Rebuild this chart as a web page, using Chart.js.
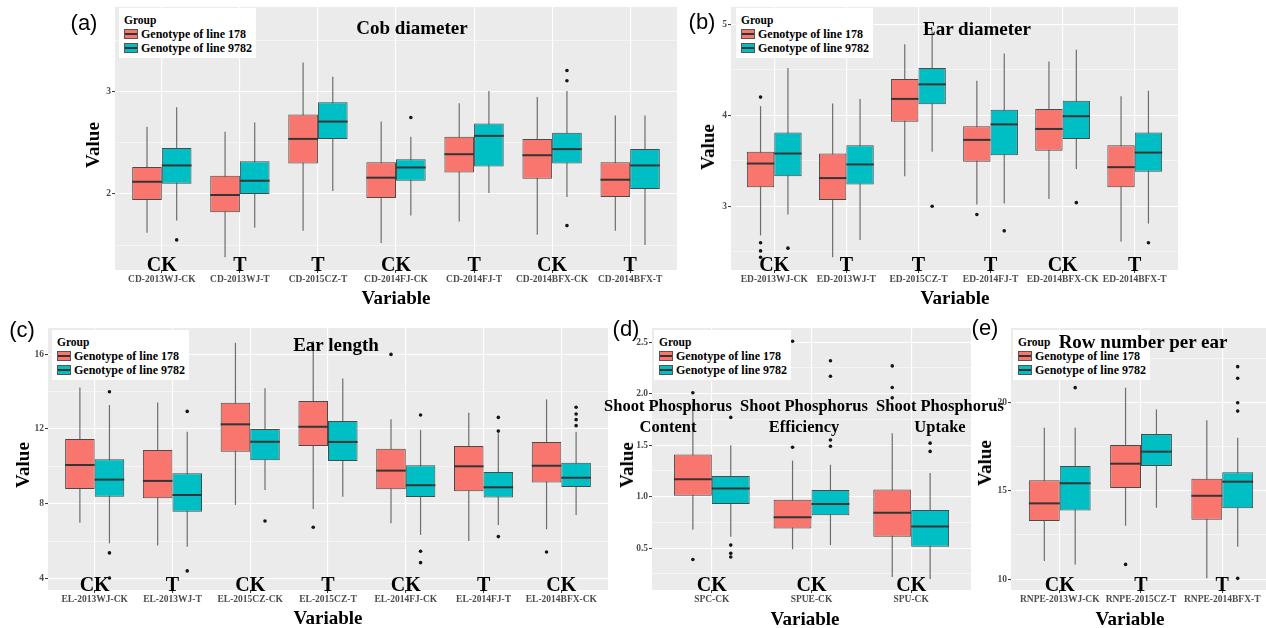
<!DOCTYPE html>
<html><head><meta charset="utf-8">
<script src="https://cdn.jsdelivr.net/npm/chart.js@4/dist/chart.umd.min.js"></script>
<style>
html,body{margin:0;padding:0;background:#fff;width:1266px;height:628px;overflow:hidden;position:relative;font-family:"Liberation Serif","Times New Roman",serif;}
canvas.pc{position:absolute;}
.t{position:absolute;transform:translate(-50%,-50%);white-space:nowrap;font-weight:bold;color:#000;}
.pl{font-family:"Liberation Sans",Arial,sans-serif;font-weight:normal;font-size:22px;}
.ttl{font-size:19px;}
.sp{font-size:16.5px;line-height:21px;text-align:center;}
.ax{font-size:19px;}
.vy{transform:translate(-50%,-50%) rotate(-90deg);}
.lg{position:absolute;background:#fff;font-weight:bold;font-size:12px;line-height:14px;padding:5px 4px 0 5px;box-sizing:border-box;white-space:nowrap;}
.lg .k{display:inline-block;width:12px;height:8px;border:1px solid #555;vertical-align:-1px;margin-right:3px;position:relative;}
.lg .k::after{content:'';position:absolute;left:0;right:0;top:3px;height:2px;background:#333;}
</style></head><body>
<script>
// ---------- DATA ----------
// five-number summaries per category: [lower whisker, Q1, median, Q3, upper whisker]
const cdCats = ['CD-2013WJ-CK','CD-2013WJ-T','CD-2015CZ-T','CD-2014FJ-CK','CD-2014FJ-T','CD-2014BFX-CK','CD-2014BFX-T'];
const cdTags = ['CK','T','T','CK','T','CK','T'];
const cd178 = [[1.62,1.94,2.12,2.265,2.66],[1.38,1.82,1.99,2.18,2.61],[1.64,2.30,2.54,2.78,3.29],[1.52,1.96,2.16,2.31,2.71],[1.73,2.21,2.39,2.56,2.89],[1.60,2.15,2.38,2.54,2.95],[1.64,1.97,2.14,2.31,2.77]];
const cd9782 = [[1.74,2.10,2.28,2.45,2.85],[1.67,2.00,2.13,2.32,2.70],[2.03,2.54,2.71,2.90,3.15],[1.79,2.13,2.26,2.34,2.56],[2.01,2.27,2.57,2.69,3.01],[1.97,2.30,2.44,2.60,3.01],[1.50,2.05,2.28,2.44,2.77]];
const cd178Out = [];
const cd9782Out = [[0,1.55],[3,2.75],[5,3.21],[5,3.11],[5,1.69]];
const cdMajor = [2,3];
const cdMinor = [1.5,2.5,3.5];

const edCats = ['ED-2013WJ-CK','ED-2013WJ-T','ED-2015CZ-T','ED-2014FJ-T','ED-2014BFX-CK','ED-2014BFX-T'];
const edTags = ['CK','T','T','T','CK','T'];
const ed178 = [[2.68,3.21,3.47,3.60,4.10],[2.44,3.07,3.31,3.58,4.13],[3.33,3.93,4.18,4.40,4.78],[3.02,3.49,3.73,3.88,4.38],[3.08,3.61,3.85,4.07,4.59],[2.61,3.21,3.43,3.67,4.21]];
const ed9782 = [[2.91,3.33,3.58,3.81,4.52],[2.63,3.24,3.46,3.67,4.18],[3.60,4.12,4.34,4.52,4.92],[3.03,3.56,3.90,4.06,4.68],[3.41,3.74,3.99,4.16,4.72],[2.81,3.38,3.59,3.81,4.27]];
const ed178Out = [[0,4.20],[0,2.60],[0,2.51],[0,2.44],[3,2.91]];
const ed9782Out = [[0,2.54],[2,3.00],[3,2.73],[4,3.04],[5,2.60]];
const edMajor = [3,4,5];
const edMinor = [2.5,3.5,4.5];

const elCats = ['EL-2013WJ-CK','EL-2013WJ-T','EL-2015CZ-CK','EL-2015CZ-T','EL-2014FJ-CK','EL-2014FJ-T','EL-2014BFX-CK'];
const elTags = ['CK','T','CK','T','CK','T','CK'];
const el178 = [[7.0,8.80,10.08,11.47,14.22],[5.78,8.30,9.23,10.88,13.42],[7.95,10.79,12.25,13.40,16.6],[7.73,11.09,12.12,13.49,16.7],[6.97,8.78,9.78,10.95,12.52],[6.03,8.68,10.01,11.09,12.87],[6.65,9.14,10.04,11.31,13.58]];
const el9782 = [[5.90,8.39,9.30,10.38,13.28],[5.72,7.59,8.48,9.64,11.86],[8.75,10.33,11.32,12.00,14.17],[8.39,10.29,11.31,12.43,14.70],[6.35,8.37,9.00,10.06,11.95],[6.88,8.34,8.89,9.71,11.77],[7.41,8.91,9.40,10.20,11.86]];
const el178Out = [[3,6.76],[4,15.98],[6,5.44]];
const el9782Out = [[0,13.99],[0,5.39],[0,4.05],[1,12.94],[1,4.43],[2,7.09],[4,12.75],[4,5.48],[4,4.87],[5,12.62],[5,11.89],[5,6.26],[6,13.16],[6,12.80],[6,12.50],[6,12.18]];
const elMajor = [4,8,12,16];
const elMinor = [6,10,14];

const spCats = ['SPC-CK','SPUE-CK','SPU-CK'];
const spTags = ['CK','CK','CK'];
const sp178 = [[0.68,1.01,1.17,1.41,1.92],[0.49,0.69,0.80,0.97,1.35],[0.22,0.61,0.845,1.07,1.615]];
const sp9782 = [[0.61,0.93,1.08,1.20,1.50],[0.53,0.82,0.93,1.065,1.31],[0.20,0.515,0.71,0.87,1.23]];
const sp178Out = [[0,2.01],[0,0.39],[1,2.51],[1,1.48],[2,2.27],[2,2.06],[2,1.96]];
const sp9782Out = [[0,1.77],[0,0.53],[0,0.45],[0,0.415],[1,2.32],[1,2.17],[1,1.55],[1,1.49],[2,1.52],[2,1.44]];
const spMajor = [0.5,1.0,1.5,2.0,2.5];
const spMinor = [0.25,0.75,1.25,1.75,2.25];

const rnCats = ['RNPE-2013WJ-CK','RNPE-2015CZ-T','RNPE-2014BFX-T'];
const rnTags = ['CK','T','T'];
const rn178 = [[11.02,13.29,14.29,15.60,18.58],[13.02,15.16,16.54,17.60,20.85],[10.04,13.36,14.72,15.69,19.0]];
const rn9782 = [[10.83,13.89,15.43,16.41,18.58],[14.04,16.41,17.22,18.22,19.62],[11.83,14.01,15.52,16.05,18.01]];
const rn178Out = [[1,10.83]];
const rn9782Out = [[0,20.85],[2,22.04],[2,21.38],[2,19.99],[2,19.52],[2,10.04]];
const rnMajor = [10,15,20];
const rnMinor = [12.5,17.5,22.5];

const groupNames = ['Genotype of line 178','Genotype of line 9782'];

// ---------- DRAWING ----------
const FONT = "'Liberation Serif','Times New Roman',serif";
const FILL = ['#F8766D','#00BFC4'];
const CATP = 0.76;
const OFF = CATP/4;
const YW = 30, XH = 22, PT = 10, PR = 10;

function panel(p){
  const cv = document.createElement('canvas');
  cv.className='pc';
  const w = p.R - p.L + YW + PR, h = p.B - p.T + PT + XH;
  cv.width = w; cv.height = h;
  cv.style.left = (p.L - YW) + 'px'; cv.style.top = (p.T - PT) + 'px';
  cv.style.width = w + 'px'; cv.style.height = h + 'px';
  document.body.appendChild(cv);
  const n = p.cats.length;
  const isMajor = v => p.major.some(m => Math.abs(m - v) < 1e-6);
  const yTicks = p.major.concat(p.minor).sort((a,b)=>a-b);
  const half = ctx => { const s = ctx.chart.scales.x; return Math.abs(s.getPixelForValue(1+OFF) - s.getPixelForValue(1)); };
  const groups = [p.g178, p.g9782];
  const outs = [p.o178, p.o9782];
  const ds = [];
  groups.forEach((g,k)=>{
    ds.push({type:'bar', stack:'s'+k, order:1, data:g.map((s,i)=>({x:i+1, y:[s[1], s[3]]})),
      backgroundColor:FILL[k], borderColor:'#4a4a4a', borderWidth:1, borderSkipped:false,
      categoryPercentage:CATP, barPercentage:1});
  });
  groups.forEach((g,k)=>{
    ds.push({type:'bar', stack:'s'+k, order:2, data:g.map((s,i)=>({x:i+1, y:[s[0], s[4]]})),
      backgroundColor:'#6e6e6e', borderWidth:0, maxBarThickness:1.2,
      categoryPercentage:CATP, barPercentage:1});
  });
  groups.forEach((g,k)=>{
    const sgn = k === 0 ? -1 : 1;
    ds.push({type:'scatter', order:0, data:g.map((s,i)=>({x:i+1+sgn*OFF, y:s[2]})),
      pointStyle:'line', pointRadius:half, pointBorderWidth:2, pointBorderColor:'#353535', pointBackgroundColor:'#353535'});
    ds.push({type:'scatter', order:0, data:outs[k].map(o=>({x:o[0]+1+sgn*OFF, y:o[1]})),
      pointRadius:1.8, pointBackgroundColor:'#151515', pointBorderWidth:0});
  });
  const tickFont = {family:FONT, weight:'bold', size:9.5};
  new Chart(cv, {
    type:'bar',
    data:{datasets:ds},
    options:{
      responsive:false, animation:false, events:[],
      layout:{padding:{left:0, top:PT, right:PR, bottom:0}},
      plugins:{legend:{display:false}, tooltip:{enabled:false}},
      scales:{
        x:{type:'linear', min:0.4, max:n+0.6, offset:false,
          afterBuildTicks:s=>{ s.ticks = p.cats.map((c,i)=>({value:i+1})); },
          afterFit:s=>{ s.height = XH; s.paddingLeft = 0; s.paddingRight = 0; },
          ticks:{autoSkip:false, maxRotation:0, minRotation:0, padding:1, color:'#4d4d4d', font:tickFont,
            callback:v=>p.cats[Math.round(v)-1] || ''},
          grid:{offset:false, color:'#ffffff', lineWidth:1.1, tickLength:3, tickColor:'#333333', tickWidth:1},
          border:{display:false}},
        y:{type:'linear', min:p.ymin, max:p.ymax, stacked:false,
          afterBuildTicks:s=>{ s.ticks = yTicks.map(v=>({value:v})); },
          afterFit:s=>{ s.width = YW; s.paddingTop = 0; s.paddingBottom = 0; },
          ticks:{autoSkip:false, padding:1, color:'#4d4d4d', font:tickFont,
            callback:v=> isMajor(v) ? p.fmt(v) : ''},
          grid:{color:'#ffffff',
            lineWidth:c=> (c.tick && !isMajor(c.tick.value)) ? 0.5 : 1.1,
            tickLength:3, tickWidth:1,
            tickColor:c=> (c.tick && !isMajor(c.tick.value)) ? 'rgba(0,0,0,0)' : '#333333'},
          border:{display:false}}
      }
    },
    plugins:[{
      id:'ggpanel',
      beforeDraw(chart){
        const {ctx, chartArea:a} = chart;
        ctx.save(); ctx.fillStyle = '#EBEBEB';
        ctx.fillRect(a.left, a.top, a.right-a.left, a.bottom-a.top); ctx.restore();
      },
      afterDatasetsDraw(chart){
        const {ctx, chartArea:a, scales:{x}} = chart;
        ctx.save(); ctx.font = 'bold 20px ' + FONT; ctx.fillStyle = '#000';
        ctx.textAlign = 'center'; ctx.textBaseline = 'alphabetic';
        p.tags.forEach((t,i)=> ctx.fillText(t, x.getPixelForValue(i+1), a.bottom + 1));
        ctx.restore();
      }
    }]
  });
}
const f0 = v => String(Math.round(v));
const f1 = v => v.toFixed(1);
panel({L:115,R:677,T:7,B:270, cats:cdCats, tags:cdTags, g178:cd178, g9782:cd9782, o178:cd178Out, o9782:cd9782Out, ymin:1.255, ymax:3.833, major:cdMajor, minor:cdMinor, fmt:f0});
panel({L:731,R:1178,T:7,B:270, cats:edCats, tags:edTags, g178:ed178, g9782:ed9782, o178:ed178Out, o9782:ed9782Out, ymin:2.30, ymax:5.19, major:edMajor, minor:edMinor, fmt:f0});
panel({L:48,R:608,T:328,B:590, cats:elCats, tags:elTags, g178:el178, g9782:el9782, o178:el178Out, o9782:el9782Out, ymin:3.41, ymax:17.39, major:elMajor, minor:elMinor, fmt:f0});
panel({L:652,R:971,T:328,B:590, cats:spCats, tags:spTags, g178:sp178, g9782:sp9782, o178:sp178Out, o9782:sp9782Out, ymin:0.094, ymax:2.638, major:spMajor, minor:spMinor, fmt:f1});
panel({L:1011,R:1271,T:328,B:590, cats:rnCats, tags:rnTags, g178:rn178, g9782:rn9782, o178:rn178Out, o9782:rn9782Out, ymin:9.38, ymax:24.23, major:rnMajor, minor:rnMinor, fmt:f0});

// ---------- TEXT ----------
function txt(cls, x, y, html){
  const d = document.createElement('div'); d.className = 't ' + cls;
  d.style.left = x + 'px'; d.style.top = y + 'px'; d.innerHTML = html;
  document.body.appendChild(d);
}
function legend(x, y){
  const d = document.createElement('div'); d.className = 'lg';
  d.style.left = x + 'px'; d.style.top = y + 'px'; d.style.width = '137px'; d.style.height = '50px';
  d.innerHTML = '<div style="font-size:11.5px">Group</div>' +
    groupNames.map((g,k)=>'<div><span class="k" style="background:'+FILL[k]+'"></span>'+g+'</div>').join('');
  document.body.appendChild(d);
}
legend(119, 8); legend(736, 8); legend(52, 330); legend(654, 330); legend(1013, 330);
txt('pl', 84, 23, '(a)'); txt('pl', 702, 22, '(b)'); txt('pl', 22, 330, '(c)'); txt('pl', 626, 329, '(d)'); txt('pl', 985, 328, '(e)');
txt('ttl', 412, 28, 'Cob diameter');
txt('ttl', 977, 29, 'Ear diameter');
txt('ttl', 336, 345, 'Ear length');
txt('ttl', 1143, 342, 'Row number per ear');
txt('sp', 668, 416, 'Shoot Phosphorus<br>Content');
txt('sp', 804, 416, 'Shoot Phosphorus<br>Efficiency');
txt('sp', 940, 416, 'Shoot Phosphorus<br>Uptake');
txt('ax vy', 93, 145, 'Value'); txt('ax vy', 708, 147, 'Value'); txt('ax vy', 23, 465, 'Value'); txt('ax vy', 627, 465, 'Value'); txt('ax vy', 985, 463, 'Value');
txt('ax', 396, 298, 'Variable'); txt('ax', 955, 298, 'Variable'); txt('ax', 328, 618, 'Variable'); txt('ax', 805, 619, 'Variable'); txt('ax', 1130, 619, 'Variable');
</script>
</body></html>
